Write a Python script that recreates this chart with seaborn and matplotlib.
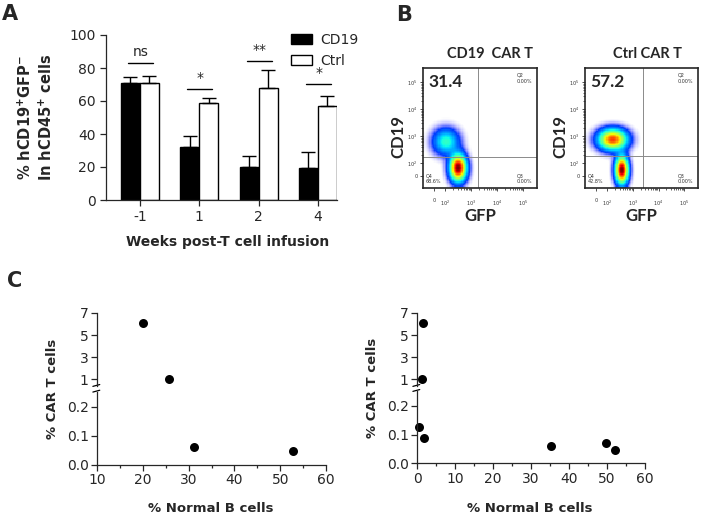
import numpy as np
import pandas as pd
import matplotlib
matplotlib.use('Agg')
import matplotlib.pyplot as plt
import seaborn as sns
from matplotlib.patches import Patch

# ---------------- data ----------------
# panel A: % hCD19+GFP- in hCD45+ cells
weeks = ['-1', '1', '2', '4']
cd19_mean = [71, 32, 20, 19.5]
cd19_err = [3.5, 7, 6.5, 9.5]
ctrl_mean = [71, 59, 68, 57]
ctrl_err = [4, 3, 11, 6]
sig_labels = ['ns', '*', '**', '*']
sig_heights = [83, 67, 84, 70]

# panel B: flow plots (axis units = log10 decades)
flow_titles = ['CD19  CAR T', 'Ctrl CAR T']
flow_q1 = ['31.4', '57.2']
flow_q4 = ['68.6%', '42.8%']
flow_gate_x = [3.25, 3.38]
flow_gate_y = [2.24, 2.29]
# populations: (GFP centre, CD19 centre, GFP spread, CD19 spread, fraction)
flow_pops = [
    [(2.00, 2.80, 0.31, 0.30, 0.314), (2.47, 1.82, 0.20, 0.31, 0.686)],
    [(2.20, 2.88, 0.35, 0.24, 0.572), (2.56, 1.74, 0.16, 0.32, 0.428)],
]
flow_tick_pos = [1.55, 2, 3, 4, 5]
flow_tick_lab = ['0', '$10^{2}$', '$10^{3}$', '$10^{4}$', '$10^{5}$']

# panel C
c1_normal_b = [20, 25.8, 31.2, 52.7]
c1_car_t = [6.1, 1.0, 0.062, 0.048]
c2_normal_b = [1.5, 1.3, 0.5, 1.8, 35.2, 49.8, 52.0]
c2_car_t = [6.1, 1.0, 0.128, 0.088, 0.061, 0.071, 0.047]

# ---------------- style ----------------
sns.set_style('ticks')
plt.rcParams['font.family'] = ['DejaVu Sans']
plt.rcParams['mathtext.fontset'] = 'dejavusans'
plt.rcParams['axes.linewidth'] = 0.9
plt.rcParams['xtick.major.width'] = 0.9
plt.rcParams['ytick.major.width'] = 0.9

W, H = 711, 517
fig = plt.figure(figsize=(W / 100, H / 100), dpi=100)


def px(l, t, r, b):
    return [l / W, 1 - b / H, (r - l) / W, (b - t) / H]


# ---------------- panel A ----------------
axA = fig.add_axes(px(106, 35, 337, 200))
dfA = pd.DataFrame({
    'week': weeks * 2,
    'value': cd19_mean + ctrl_mean,
    'group': ['CD19'] * 4 + ['Ctrl'] * 4,
})
sns.barplot(data=dfA, x='week', y='value', hue='group', hue_order=['CD19', 'Ctrl'],
            palette=['black', 'white'], edgecolor='black', linewidth=1,
            width=0.64, errorbar=None, legend=False, ax=axA)

centres = []
for cont, means, errs in zip(axA.containers, [cd19_mean, ctrl_mean], [cd19_err, ctrl_err]):
    xs = [p.get_x() + p.get_width() / 2 for p in cont.patches]
    centres.append(xs)
    axA.errorbar(xs, means, yerr=[np.zeros(len(errs)), errs], fmt='none',
                 ecolor='black', elinewidth=1, capsize=5, capthick=1, zorder=1)

for i, (lab, h) in enumerate(zip(sig_labels, sig_heights)):
    x0 = centres[0][i] - 0.04
    x1 = centres[1][i] + 0.06
    axA.plot([x0, x1], [h, h], color='black', lw=1)
    axA.text((x0 + x1) / 2, h + 2.5, lab, ha='center', va='bottom', fontsize=10)

axA.set_xlim(-0.57, 3.32)
axA.set_ylim(0, 100)
axA.set_yticks(range(0, 101, 20))
axA.tick_params(labelsize=10, length=4, direction='out')
axA.set_xlabel('Weeks post-T cell infusion', fontsize=10, fontweight='bold')
axA.xaxis.set_label_coords(0.525, -0.215)
axA.set_ylabel('% hCD19$^{\\mathbf{+}}$GFP$^{\\mathbf{-}}$\nIn hCD45$^{\\mathbf{+}}$ cells',
               fontsize=10.5, fontweight='bold', linespacing=1.3)
axA.yaxis.set_label_coords(-0.22, 0.5)
sns.despine(ax=axA)
axA.legend(handles=[Patch(facecolor='black', edgecolor='black'),
                    Patch(facecolor='white', edgecolor='black')],
           labels=['CD19', 'Ctrl'], loc='upper left',
           bbox_to_anchor=(291 / W, 1 - 33 / H), bbox_transform=fig.transFigure,
           frameon=False, fontsize=10, handlelength=1.5, handleheight=0.8,
           handletextpad=0.6, labelspacing=0.5, borderpad=0, borderaxespad=0)

# ---------------- panel B ----------------
flow_boxes = [px(423, 68, 537, 188), px(585, 68, 698, 188)]
title_x = [0.59, 0.55]
xlim_f = (1.13, 5.54)
ylim_f = (1.09, 5.53)
gx = np.linspace(*xlim_f, 90)
gy = np.linspace(*ylim_f, 90)
GX, GY = np.meshgrid(gx, gy)
jet = plt.get_cmap('jet')

for k in range(2):
    ax = fig.add_axes(flow_boxes[k])
    dens = np.zeros_like(GX)
    for cx, cy, sx, sy, w in flow_pops[k]:
        dens += w / (sx * sy) * np.exp(-0.5 * (((GX - cx) / sx) ** 2 + ((GY - cy) / sy) ** 2))
    dens = dens / dens.max()
    rgba = jet(np.clip(0.1 + 0.9 * dens ** 0.9, 0, 1))
    rgba[..., 3] = np.clip((dens - 0.003) / 0.07, 0, 1)
    ax.imshow(rgba, extent=(*xlim_f, *ylim_f), origin='lower', aspect='auto',
              interpolation='nearest')
    ax.axvline(flow_gate_x[k], color='#8a8a8a', lw=0.7)
    ax.axhline(flow_gate_y[k], color='#8a8a8a', lw=0.7)
    ax.set_xlim(xlim_f)
    ax.set_ylim(ylim_f)
    ax.set_xticks(flow_tick_pos)
    ax.set_xticklabels(flow_tick_lab)
    ax.set_yticks(flow_tick_pos)
    ax.set_yticklabels(flow_tick_lab)
    minor = [np.log10(m * 10 ** d) for d in (2, 3, 4) for m in range(2, 10)]
    ax.set_xticks(minor, minor=True)
    ax.set_yticks(minor, minor=True)
    ax.tick_params(which='major', labelsize=3.5, length=2.5, width=0.6, colors='#333333')
    ax.tick_params(axis='x', which='major', pad=5)
    ax.tick_params(axis='y', which='major', pad=1.5)
    ax.tick_params(which='minor', length=1.5, width=0.5)
    for s in ax.spines.values():
        s.set_linewidth(1.2)
    ax.text(title_x[k], 1.06, flow_titles[k], transform=ax.transAxes, fontsize=10.5,
            fontweight='bold', family='Lato', ha='center', va='bottom')
    ax.set_xlabel('GFP', fontsize=12, fontweight='bold', family='Lato')
    ax.xaxis.set_label_coords(0.5, -0.165)
    ax.set_ylabel('CD19', fontsize=12, fontweight='bold', family='Lato')
    ax.yaxis.set_label_coords(-0.15, 0.43)
    ax.text(0.05, 0.95, flow_q1[k], transform=ax.transAxes, fontsize=12.5,
            fontweight='bold', family='Lato', ha='left', va='top')
    ax.text(0.82, 0.96, 'Q2\n0.00%', transform=ax.transAxes, fontsize=3.5,
            ha='left', va='top', color='#333333')
    ax.text(0.82, 0.03, 'Q3\n0.00%', transform=ax.transAxes, fontsize=3.5,
            ha='left', va='bottom', color='#333333')
    ax.text(0.02, 0.03, 'Q4\n' + flow_q4[k], transform=ax.transAxes, fontsize=3.5,
            ha='left', va='bottom', color='#333333')

# ---------------- panel C ----------------


def broken_scatter(pos_top, pos_bot, xs, ys, xlim, xticks, ylab_x, xlab_x):
    ax_top = fig.add_axes(pos_top)
    ax_bot = fig.add_axes(pos_bot)
    df = pd.DataFrame({'x': xs, 'y': ys})
    sns.scatterplot(data=df[df['y'] >= 0.5], x='x', y='y', ax=ax_top,
                    color='black', s=42, linewidth=0)
    sns.scatterplot(data=df[df['y'] < 0.5], x='x', y='y', ax=ax_bot,
                    color='black', s=42, linewidth=0)
    for a in (ax_top, ax_bot):
        for c in a.collections:
            c.set_clip_on(False)
        a.set_xlim(xlim)
        a.set_xlabel('')
        a.set_ylabel('')
        a.tick_params(labelsize=10, length=4, direction='out', pad=2)
    ax_top.set_ylim(0.39, 7)
    ax_top.set_yticks([1, 3, 5, 7])
    ax_top.set_xticks([])
    sns.despine(ax=ax_top, bottom=True)
    ax_bot.set_ylim(0, 0.252)
    ax_bot.set_yticks([0, 0.1, 0.2])
    ax_bot.set_yticklabels(['0.0', '0.1', '0.2'])
    ax_bot.set_xticks(xticks)
    ax_bot.set_xticks([t + 5 for t in xticks[:-1]], minor=True)
    ax_bot.tick_params(which='minor', length=2.5, width=0.9)
    sns.despine(ax=ax_bot)
    for a, y0 in ((ax_top, 0.0), (ax_bot, 1.0)):
        a.plot([-0.018, 0.012], [y0 - 0.005, y0 + 0.02], transform=a.transAxes,
               color='black', lw=0.9, clip_on=False)
    b = ax_bot.get_position()
    t = ax_top.get_position()
    fig.text(ylab_x / W, (b.y0 + t.y1) / 2, '% CAR T cells', rotation=90,
             ha='center', va='center', fontsize=9.5, fontweight='bold')
    fig.text(xlab_x / W, 1 - 508 / H, '% Normal B cells', ha='center', va='center',
             fontsize=9.5, fontweight='bold')


broken_scatter(px(97, 313, 326, 386), px(97, 391.7, 326, 465),
               c1_normal_b, c1_car_t, (10, 60), [10, 20, 30, 40, 50, 60], 53, 211)
broken_scatter(px(417, 313, 645, 386), px(417, 391, 645, 463.3),
               c2_normal_b, c2_car_t, (0, 60), [0, 10, 20, 30, 40, 50, 60], 373, 530)

# panel letters
for lab, x, y, fs in (('A', 2, 4, 15), ('B', 396, 5, 15), ('C', 7, 271, 15)):
    fig.text(x / W, 1 - y / H, lab, fontsize=fs, fontweight='bold',
             ha='left', va='top')

fig.savefig('out.png', dpi=100)
